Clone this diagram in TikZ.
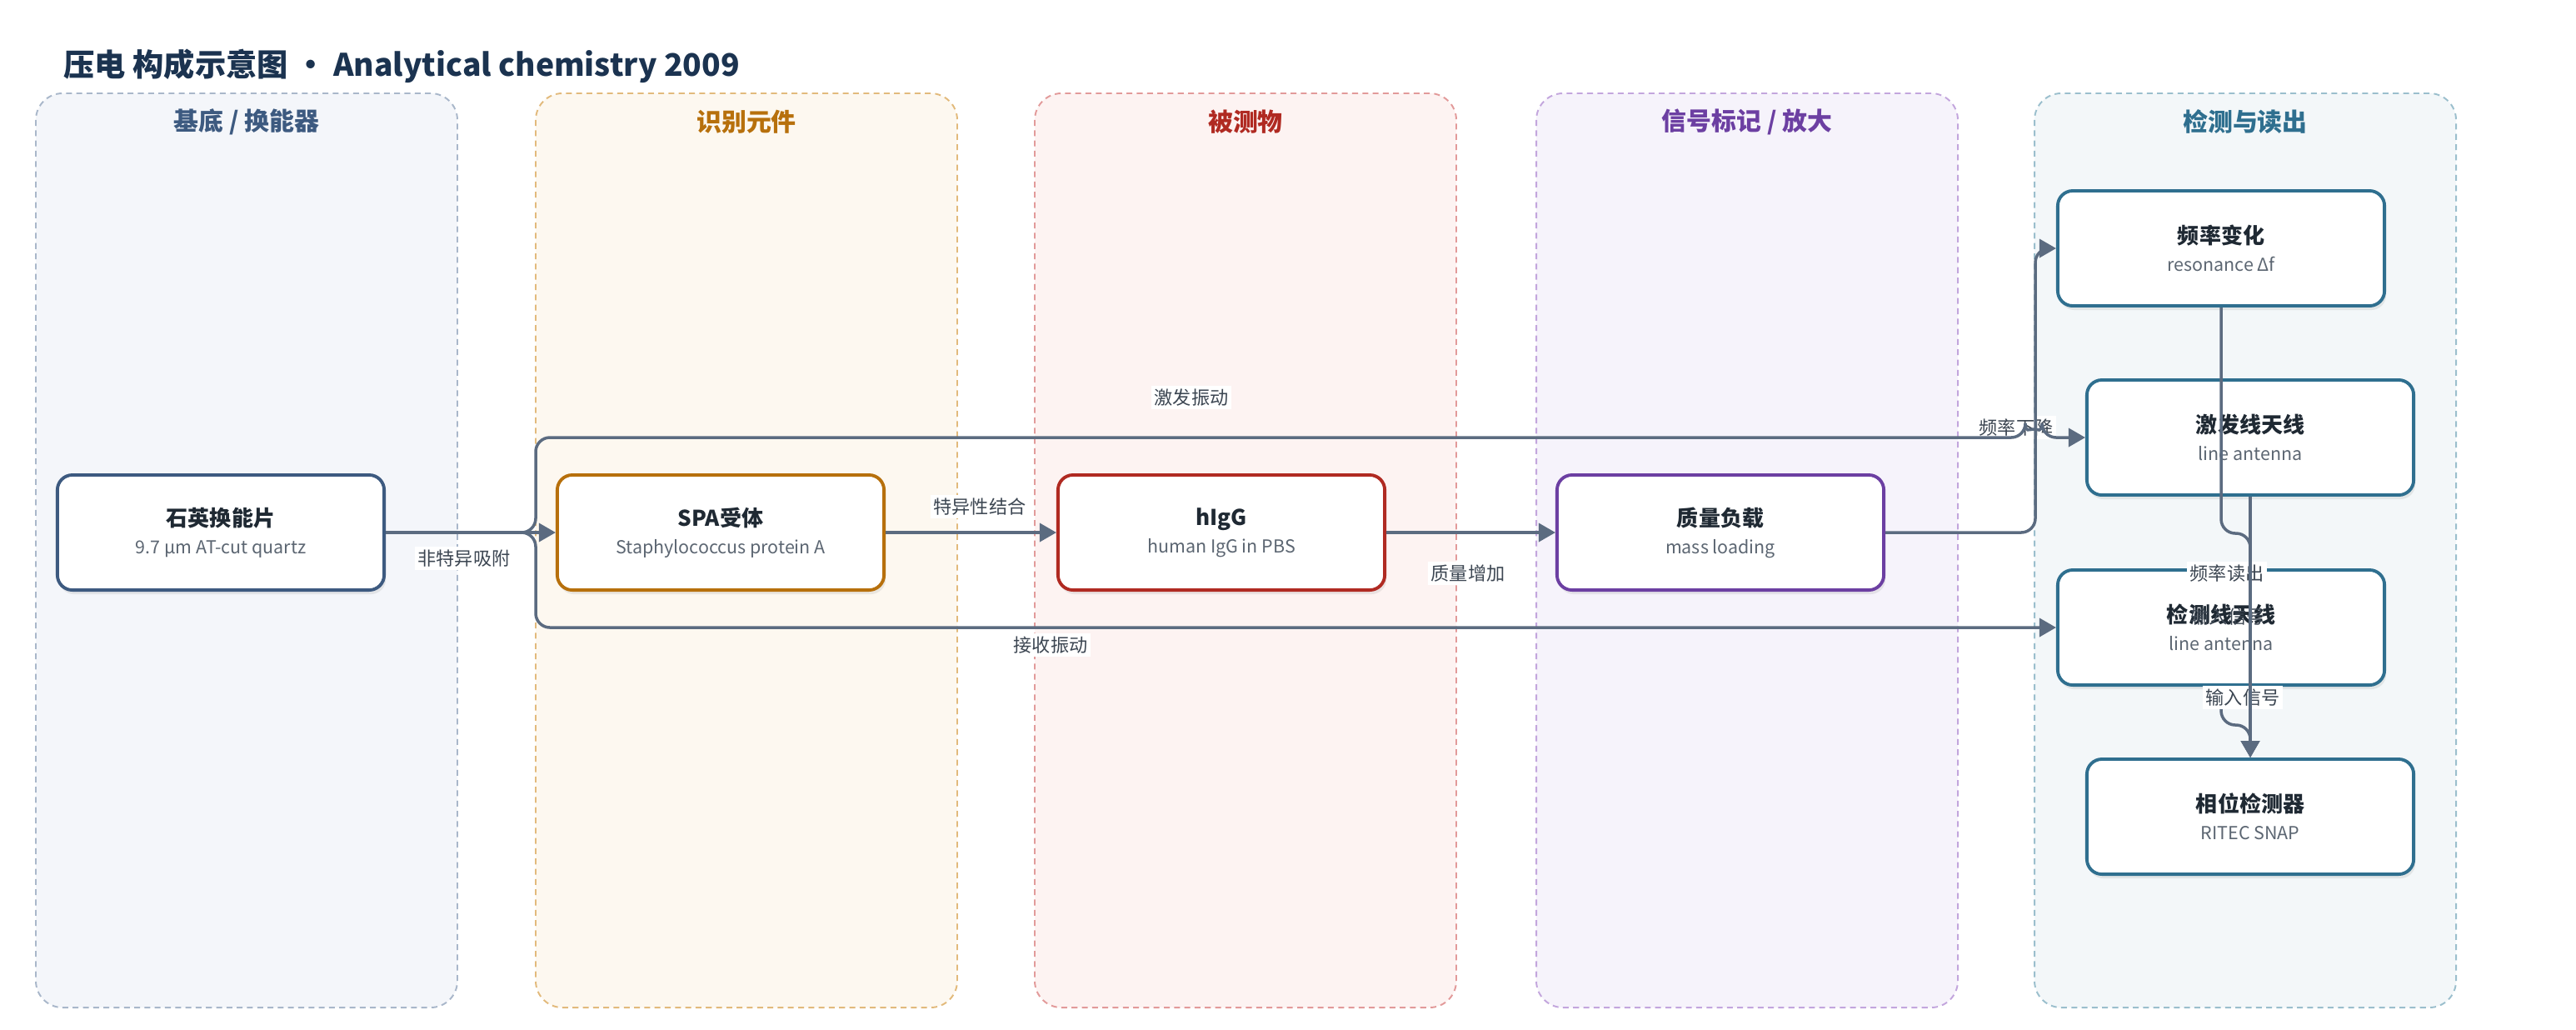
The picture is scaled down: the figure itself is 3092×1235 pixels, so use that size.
\documentclass[tikz,border=0pt]{standalone}
\usepackage{fontspec}
\setmainfont{Noto Sans CJK SC}
\usetikzlibrary{arrows.meta,shadows}
\definecolor{titlecol}{HTML}{1B3350}
\definecolor{edgecol}{HTML}{5B6B80}
\definecolor{labelcol}{HTML}{3C4652}
\definecolor{nodetitle}{HTML}{1F2933}
\definecolor{nodesub}{HTML}{5C6672}
\definecolor{lanefill1}{HTML}{F4F6FA}
\definecolor{laneline1}{HTML}{A9B7CA}
\definecolor{lanetext1}{HTML}{3D5A80}
\definecolor{lanefill2}{HTML}{FDF8F0}
\definecolor{laneline2}{HTML}{E2BA7C}
\definecolor{lanetext2}{HTML}{B7700C}
\definecolor{lanefill3}{HTML}{FDF3F2}
\definecolor{laneline3}{HTML}{E29A9A}
\definecolor{lanetext3}{HTML}{B02A22}
\definecolor{lanefill4}{HTML}{F6F3FB}
\definecolor{laneline4}{HTML}{C3A6DD}
\definecolor{lanetext4}{HTML}{6C3FA2}
\definecolor{lanefill5}{HTML}{F3F7F9}
\definecolor{laneline5}{HTML}{9BBFCD}
\definecolor{lanetext5}{HTML}{2F6F8F}
\newcommand{\boxtext}[2]{{\bfseries\color{nodetitle}#1}\\{\fontsize{6.1}{9.4}\selectfont\color{nodesub}#2}}
\begin{document}
\begin{tikzpicture}
		[x=0.01cm,y=-0.01cm,
		mylane/.style={rounded corners=0.32cm,dash pattern=on 2pt off 1.5pt,line width=0.55pt},
		lanehead/.style={font=\bfseries\fontsize{8.5}{10}\selectfont},
		mybox/.style={rectangle,rounded corners=0.18cm,draw,line width=1.1pt,fill=white,minimum width=3.92cm,minimum height=1.38cm,align=center,font=\fontsize{7.4}{9.4}\selectfont,drop shadow={shadow xshift=0.02cm,shadow yshift=-0.05cm,opacity=0.15}},
		myedge/.style={draw=edgecol,line width=1pt,rounded corners=0.17cm,-{Triangle[length=0.2cm,width=0.22cm]}},
		mylabel/.style={fill=white,inner sep=1pt,text=labelcol,font=\fontsize{6.3}{7}\selectfont},]
		\useasboundingbox (0,0) rectangle (3092,1235);
		\node[anchor=base west,text=titlecol,font=\bfseries\fontsize{10.6}{12}\selectfont] (title) at (64,91) {压电 构成示意图 · Analytical chemistry 2009};
		\foreach \lx/\ttl [count=\i] in {43/{基底 / 换能器},643/识别元件,1242/被测物,1844/{信号标记 / 放大},2442/检测与读出}
		{
			\draw[mylane,fill=lanefill\i,draw=laneline\i] (\lx,112) rectangle ++(506,1097);
			\node[lanehead,text=lanetext\i] (lane\i) at (\lx+253,146) {\ttl};
		}
		\node[mybox,draw=lanetext1] (quartz) at (265,639) {\boxtext{石英换能片}{9.7 µm AT-cut quartz}};
		\node[mybox,draw=lanetext2] (spa) at (865,639) {\boxtext{SPA受体}{Staphylococcus protein A}};
		\node[mybox,draw=lanetext3] (higg) at (1466,639) {\boxtext{hIgG}{human IgG in PBS}};
		\node[mybox,draw=lanetext4] (mass) at (2065,639) {\boxtext{质量负载}{mass loading}};
		\node[mybox,draw=lanetext5] (freq) at (2666,298) {\boxtext{频率变化}{resonance Δf}};
		\node[mybox,draw=lanetext5] (excite) at (2701,525) {\boxtext{激发线天线}{line antenna}};
		\node[mybox,draw=lanetext5] (detect) at (2666,753) {\boxtext{检测线天线}{line antenna}};
		\node[mybox,draw=lanetext5] (phase) at (2701,980) {\boxtext{相位检测器}{RITEC SNAP}};
		\draw[myedge] (detect.south) -- (2666,870) -- (2701,870) -- (phase.north);
		\node[mylabel] (lbl1) at (557,670) {非特异吸附};
		\node[mylabel] (lbl2) at (1430,477) {激发振动};
		\node[mylabel] (lbl3) at (1261,774) {接收振动};
		\node[mylabel] (lbl4) at (1176,608) {特异性结合};
		\node[mylabel] (lbl5) at (1762,688) {质量增加};
		\node[mylabel] (lbl6) at (2420,513) {频率下降};
		\node[mylabel] (lbl7) at (2673,688) {频率读出};
		\node[mylabel,fill=none] (lbl8) at (2674,740) {输入信号};
		\node[mylabel] (lbl9) at (2692,837) {输入信号};
		\draw[myedge] (quartz) -- (spa);
		\draw[myedge] (quartz.east) -- (643,639) -- (643,525) -- (2431,525) arc[start angle=180,end angle=360,radius=10] -- (excite.west);
		\draw[myedge] (quartz.east) -- (643,639) -- (643,753) -- (detect.west);
		\draw[myedge] (spa) -- (higg);
		\draw[myedge] (higg) -- (mass);
		\draw[myedge] (mass.east) -- (2443,639) -- (2443,298) -- (freq.west);
		\draw[myedge] (freq.south) -- (2666,640) -- (2701,640) -- (phase.north);
		\draw[myedge] (excite.south) -- (phase.north);
	\end{tikzpicture}
\end{document}
